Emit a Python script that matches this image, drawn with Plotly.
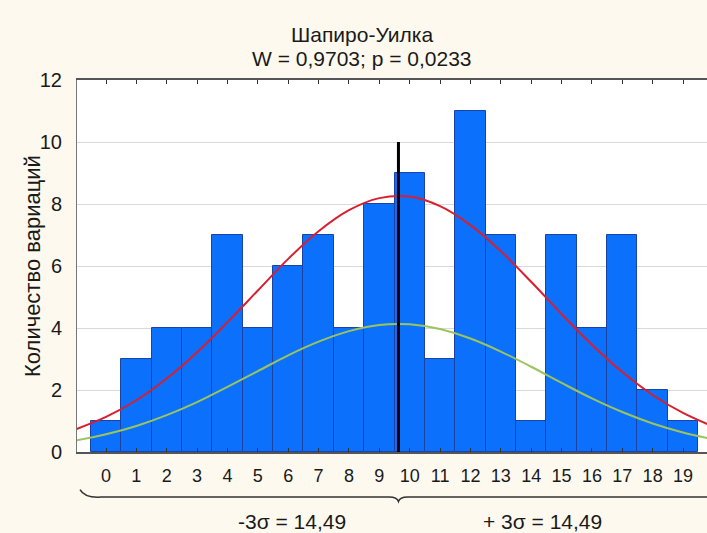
import plotly.graph_objects as go

# ---- data ----
categories = list(range(20))
counts = [1, 3, 4, 4, 7, 4, 6, 7, 4, 8, 9, 3, 11, 7, 1, 7, 4, 7, 2, 1]
curve_x = list(range(-1, 21))
red_curve = [0.73, 1.13, 1.67, 2.37, 3.22, 4.19, 5.21, 6.23, 7.12, 7.80, 8.19,
             8.24, 7.93, 7.32, 6.48, 5.49, 4.45, 3.46, 2.58, 1.84, 1.26, 0.82]
green_curve = [0.37, 0.57, 0.84, 1.19, 1.61, 2.10, 2.61, 3.12, 3.56, 3.90, 4.10,
               4.12, 3.97, 3.66, 3.24, 2.75, 2.23, 1.73, 1.29, 0.92, 0.63, 0.41]
mean_value = 9.63
mean_line_top = 10
y_ticks = [0, 2, 4, 6, 8, 10, 12]
title_lines = ["Шапиро-Уилка", "W = 0,9703; p = 0,0233"]
y_title = "Количество вариаций"
left_label = "-3σ = 14,49"
right_label = "+ 3σ = 14,49"

BG = "#fdf9ef"
FONT = "Liberation Sans, Arial, sans-serif"

fig = go.Figure()
fig.add_trace(go.Bar(
    x=categories, y=counts, width=1,
    marker=dict(color="#0b71fc", line=dict(color="#1b43a6", width=1)),
    hoverinfo="x+y", showlegend=False))
fig.add_trace(go.Scatter(
    x=curve_x, y=green_curve, mode="lines", line=dict(color="#9cc45c", width=2, shape="spline"),
    showlegend=False))
fig.add_trace(go.Scatter(
    x=curve_x, y=red_curve, mode="lines", line=dict(color="#d81f2f", width=2, shape="spline"),
    showlegend=False))
fig.add_trace(go.Scatter(
    x=[mean_value, mean_value], y=[0, mean_line_top], mode="lines",
    line=dict(color="black", width=3), showlegend=False))

x_lo, x_hi = -0.955, 19.79

fig.update_layout(
    width=707, height=533,
    margin=dict(l=77, r=0, t=80, b=81),
    paper_bgcolor=BG, plot_bgcolor="white",
    font=dict(family=FONT, color="#1a1a1a"),
    bargap=0,
    xaxis=dict(range=[x_lo, x_hi], tickvals=categories, ticktext=[str(c) for c in categories],
               showgrid=False, zeroline=False, showline=True, linecolor="#555555", linewidth=2,
               mirror="ticks", ticks="inside", ticklen=4, tickcolor="#333333",
               tickfont=dict(size=18), ticklabelstandoff=6),
    yaxis=dict(range=[0, 12], tickvals=y_ticks, showgrid=True, gridcolor="#d9d9d9",
               zeroline=False, showline=True, linecolor="#777777", linewidth=1,
               ticks="", tickfont=dict(size=20), ticklabelstandoff=10),
)

# title (two lines) and y-axis title as annotations
title_x = (362 - 77) / 630
fig.add_annotation(text=title_lines[0], x=title_x, y=1.121, xref="paper", yref="paper",
                   showarrow=False, font=dict(size=21), xanchor="center", yanchor="middle")
fig.add_annotation(text=title_lines[1], x=title_x, y=1.059, xref="paper", yref="paper",
                   showarrow=False, font=dict(size=21), xanchor="center", yanchor="middle")
fig.add_annotation(text=y_title, x=-0.0714, y=0.50, xref="paper", yref="paper", textangle=-90,
                   showarrow=False, font=dict(size=22), xanchor="center", yanchor="middle")

# brace under the x axis
y0 = -0.121
y1 = -0.101
path = (f"M {x_lo + 0.1},{y1} Q {x_lo + 0.25},{y0 - 0.003} {x_lo + 0.8},{y0} "
        f"L {mean_value - 0.3},{y0} Q {mean_value - 0.05},{y0} {mean_value},{y0 - 0.012} "
        f"Q {mean_value + 0.05},{y0} {mean_value + 0.3},{y0} L {x_hi},{y0}")
fig.add_shape(type="path", path=path, xref="x", yref="paper",
              line=dict(color="#333333", width=1.5))

fig.add_annotation(text=left_label, x=6.12, y=-0.188, xref="x", yref="paper",
                   showarrow=False, font=dict(size=21), xanchor="center", yanchor="middle")
fig.add_annotation(text=right_label, x=14.36, y=-0.188, xref="x", yref="paper",
                   showarrow=False, font=dict(size=21), xanchor="center", yanchor="middle")

fig.write_html("out.html", config={"displayModeBar": False},
               post_script="document.body.style.margin='0';document.body.style.overflow='hidden';")
